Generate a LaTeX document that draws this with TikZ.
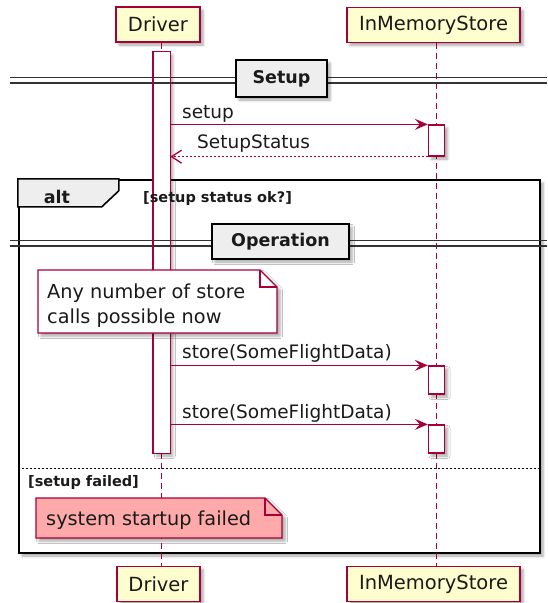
\documentclass[tikz,border=0pt]{standalone}
\usepackage{fontspec}
\setmainfont{DejaVu Sans}
\usetikzlibrary{arrows.meta,shadows.blur}
\definecolor{umlred}{HTML}{A80036}
\definecolor{umlcream}{HTML}{FEFECE}
\definecolor{umlgrey}{HTML}{EEEEEE}
\definecolor{umlpink}{HTML}{FFAAAA}
\definecolor{ink}{HTML}{1A1A1A}
\newcommand\fsz[1]{\fontsize{#1}{#1}\selectfont}

\begin{document}
\begin{tikzpicture}[x=1pt,y=-1pt,
  softshadow/.style={blur shadow={shadow xshift=3pt,shadow yshift=-3pt,shadow blur radius=2.5pt,shadow opacity=35}},
  participant/.style={draw=umlred,line width=1.4pt,fill=umlcream,inner sep=0pt,minimum height=35pt,font=\fsz{19.5},text=ink,softshadow},
  lifeline/.style={draw=umlred,line width=1.2pt,dash pattern=on 6pt off 4pt},
  actbar/.style={draw=umlred,line width=1.3pt,fill=white,inner sep=0pt,minimum width=16pt,softshadow},
  msg/.style={draw=umlred,line width=1.4pt,-{Stealth[length=13pt,width=11pt,inset=5pt]}},
  reply/.style={draw=umlred,line width=1.3pt,dash pattern=on 2pt off 2pt,-{Straight Barb[length=10pt,width=13pt]}},
  msgtext/.style={anchor=base west,inner sep=0pt,font=\fsz{18.5},text=ink},
  notetext/.style={anchor=base west,inner sep=0pt,font=\fsz{19.3},text=ink},
  divline/.style={draw=black!80,line width=1.8pt},
  divbox/.style={draw=black,line width=2pt,fill=umlgrey,inner sep=0pt,font=\bfseries\fsz{17.5},text=ink,softshadow},
  framebox/.style={draw=black,line width=2.4pt,fill=white,inner sep=0pt,softshadow},
  guard/.style={anchor=base west,inner sep=0pt,font=\bfseries\fsz{14.5},text=ink},
  notepath/.style={draw=umlred,line width=1.3pt},
  geom/.style={inner sep=0pt,outer sep=0pt}
]
\useasboundingbox (0,0) rectangle (547,603);

% lifeline positions and auxiliary heights
\coordinate (drvX) at (161.75,0);
\coordinate (imsX) at (436.5,0);
\coordinate (sepY) at (0,468);

% alt frame with its tab
\node[framebox,minimum width=521pt,minimum height=373pt] (altFrame) at (279.5,366.5) {};
\draw[fill=umlgrey,draw=black,line width=1.6pt]
  (altFrame.north west) -- ++(101,0) -- ++(0,12) -- ++(-17,16) -- ++(-84,0) -- cycle;
\node[anchor=base,inner sep=0pt,font=\bfseries\fsz{17.5},text=ink] (altLbl) at (57,203) {alt};

% participants
\node[participant,minimum width=84pt] (drvTop) at (158,24.5) {Driver};
\node[participant,minimum width=173pt] (imsTop) at (433.5,25) {InMemoryStore};
\node[participant,minimum width=83pt] (drvBot) at (158.5,584) {Driver};
\node[participant,minimum width=173pt] (imsBot) at (433.5,584) {InMemoryStore};

% lifelines
\draw[lifeline] (drvTop.south -| drvX) -- (drvBot.north -| drvX);
\draw[lifeline] (imsTop.south -| imsX) -- (imsBot.north -| imsX);

% activations; the long Driver bar gets its outline above the dividers
\node[actbar,draw=none,minimum height=401pt] (drvBar) at (161.75,252.5) {};
\node[actbar,minimum height=31pt] (actA) at (436.5,140.5) {};
\node[actbar,minimum height=28pt] (actB) at (436.5,380) {};
\node[actbar,minimum height=28pt] (actC) at (436.5,439) {};

% section dividers
\draw[divline] (10,77.5) -- (547,77.5);
\draw[divline] (10,83.3) -- (547,83.3);
\draw[divline] (10,240.5) -- (547,240.5);
\draw[divline] (10,246.2) -- (547,246.2);
\draw[draw=umlred,line width=1.3pt] (drvBar.north west) rectangle (drvBar.south east);

% divider titles
\node[divbox,minimum width=91pt,minimum height=37pt] (setupBox) at (281.5,78.5) {Setup};
\node[divbox,minimum width=137pt,minimum height=35pt] (opBox) at (280.5,241.5) {Operation};

% guard of the first branch
\node[guard] (okGuard) at (143,202) {[setup status ok?]};

% messages
\draw[msg] (drvBar.east |- actA.north west) -- (actA.north west);
\node[msgtext] (setupLbl) at (182,118) {setup};
\draw[reply] (actA.south west) -- (drvBar.east |- actA.south west);
\node[msgtext] (statusLbl) at (197,148) {SetupStatus};
\draw[msg] (drvBar.east |- actB.north west) -- (actB.north west);
\node[msgtext] (storeLblA) at (182,358) {store(SomeFlightData)};
\draw[msg] (drvBar.east |- actC.north west) -- (actC.north west);
\node[msgtext] (storeLblB) at (182,418) {store(SomeFlightData)};

% note in the operation section
\path node[geom,minimum width=239pt,minimum height=63pt] (noteA) at (157.5,301.5) {};
\draw[notepath,fill=white,softshadow]
  (noteA.north west) -- ([xshift=-17pt]noteA.north east) -- ([yshift=-17pt]noteA.north east)
  -- (noteA.south east) -- (noteA.south west) -- cycle;
\draw[notepath] ([xshift=-17pt]noteA.north east) |- ([yshift=-17pt]noteA.north east);
\node[notetext] (noteAa) at (47,298) {Any number of store};
\node[notetext] (noteAb) at (47,323) {calls possible now};

% else branch
\draw[black,line width=1pt,dash pattern=on 2pt off 2pt] (altFrame.west |- sepY) -- (altFrame.east |- sepY);
\node[guard] (failGuard) at (28,486) {[setup failed]};
\path node[geom,minimum width=246pt,minimum height=40pt] (noteB) at (159,518) {};
\draw[notepath,fill=umlpink,softshadow]
  (noteB.north west) -- ([xshift=-17pt]noteB.north east) -- ([yshift=-17pt]noteB.north east)
  -- (noteB.south east) -- (noteB.south west) -- cycle;
\draw[notepath] ([xshift=-17pt]noteB.north east) |- ([yshift=-17pt]noteB.north east);
\node[notetext] (noteBa) at (46,525) {system startup failed};
\end{tikzpicture}
\end{document}
